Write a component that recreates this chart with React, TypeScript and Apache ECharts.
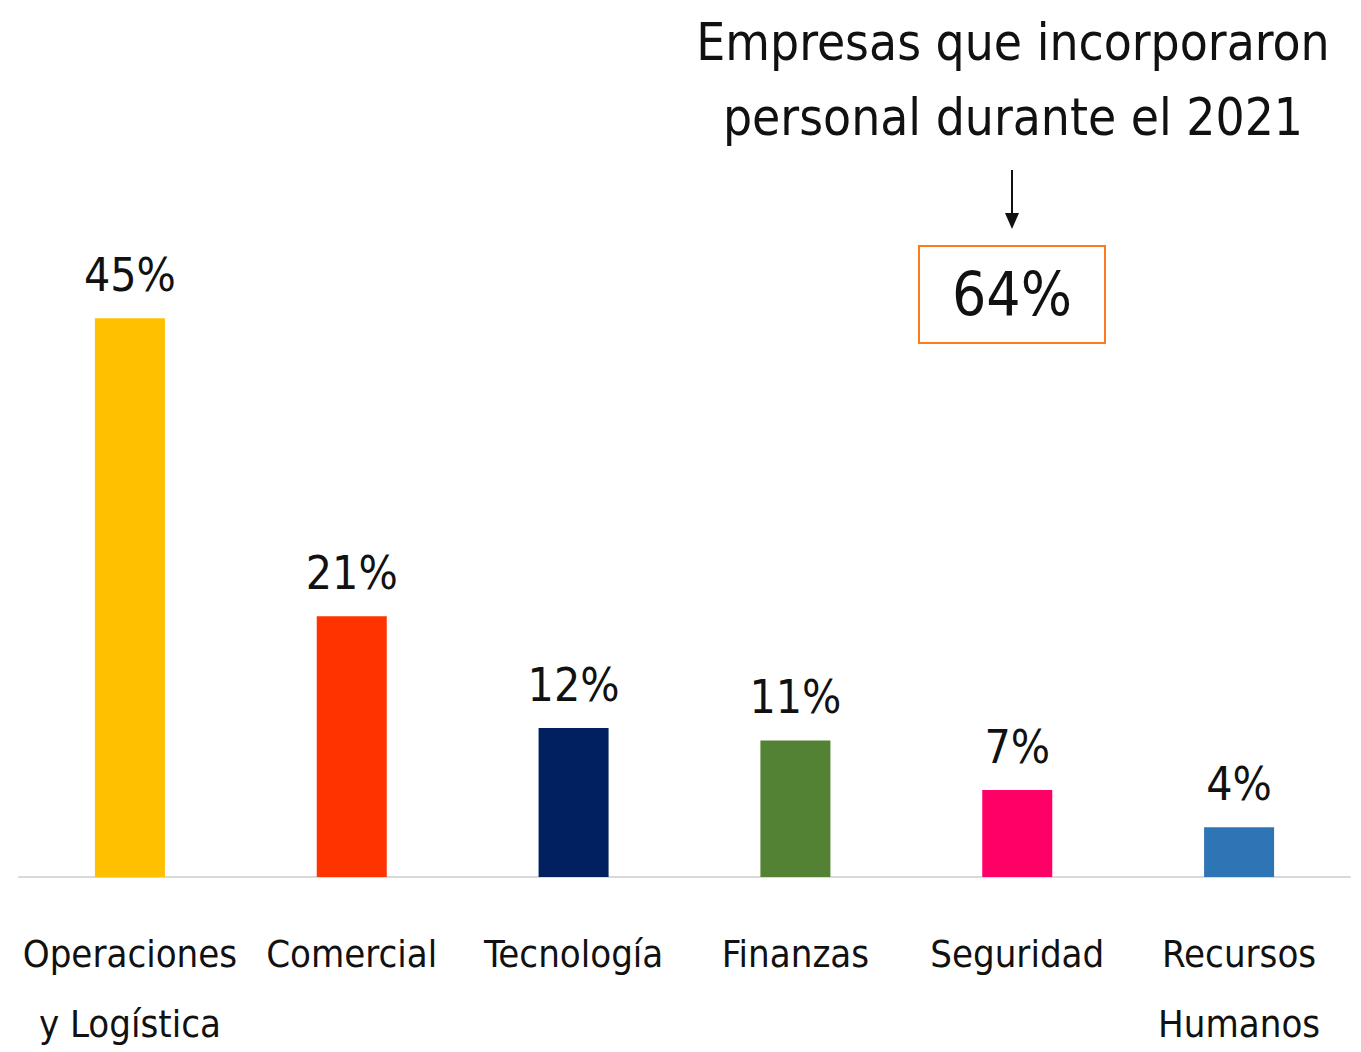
import React, { useEffect, useRef } from "react";
import * as echarts from "echarts";

const categories = ["Operaciones\ny Logística", "Comercial", "Tecnología", "Finanzas", "Seguridad", "Recursos\nHumanos"];
const values = [45, 21, 12, 11, 7, 4];
const barColors = ["#FFC000", "#FF3300", "#002060", "#548235", "#FF0066", "#2E75B6"];
const titleLines = ["Empresas que incorporaron", "personal durante el 2021"];
const highlightValue = "64%";

const FONT = "'Liberation Sans Narrow', 'DejaVu Sans Condensed', 'Roboto Condensed', sans-serif";

export default function App() {
  const ref = useRef<HTMLDivElement>(null);
  useEffect(() => {
    document.body.style.margin = "0";
    const chart = echarts.init(ref.current!, null, { renderer: "svg" });
    chart.setOption({
      animation: false,
      backgroundColor: "#ffffff",
      grid: { left: 19, right: 11, top: 132, bottom: 175, containLabel: false, outerBoundsMode: "none" },
      xAxis: {
        type: "category",
        data: categories,
        axisLine: { show: true, lineStyle: { color: "#d9d9d9", width: 2 } },
        axisTick: { show: false },
        axisLabel: {
          interval: 0,
          margin: 42,
          color: "#111111",
          fontFamily: FONT,
          fontSize: 38,
          lineHeight: 70,
        },
      },
      yAxis: {
        type: "value",
        min: 0,
        max: 60,
        show: false,
        splitLine: { show: false },
      },
      series: [
        {
          type: "bar",
          barWidth: 70,
          data: values.map((v, i) => ({ value: v, itemStyle: { color: barColors[i] } })),
          label: {
            show: true,
            position: "top",
            distance: 20,
            formatter: (p: any) => p.value + "%",
            color: "#111111",
            fontFamily: FONT,
            fontSize: 46,
          },
        },
      ],
      graphic: [
        {
          type: "text",
          x: 1013,
          y: 80,
          style: {
            text: titleLines.join("\n"),
            fontFamily: FONT,
            fontSize: 51,
            lineHeight: 75,
            fill: "#111111",
            align: "center",
            verticalAlign: "middle",
          },
        },
        {
          type: "line",
          shape: { x1: 1012, y1: 170, x2: 1012, y2: 216 },
          style: { stroke: "#111111", lineWidth: 2 },
        },
        {
          type: "polygon",
          shape: { points: [[1005, 213], [1019, 213], [1012, 229]] },
          style: { fill: "#111111" },
        },
        {
          type: "rect",
          shape: { x: 919, y: 246, width: 186, height: 97 },
          style: { fill: "none", stroke: "#FF7A1F", lineWidth: 2 },
        },
        {
          type: "text",
          x: 1012,
          y: 294,
          style: {
            text: highlightValue,
            fontFamily: FONT,
            fontSize: 60,
            fill: "#111111",
            align: "center",
            verticalAlign: "middle",
          },
        },
      ],
    });
    return () => chart.dispose();
  }, []);
  return <div ref={ref} style={{ width: 1361, height: 1052 }} />;
}
